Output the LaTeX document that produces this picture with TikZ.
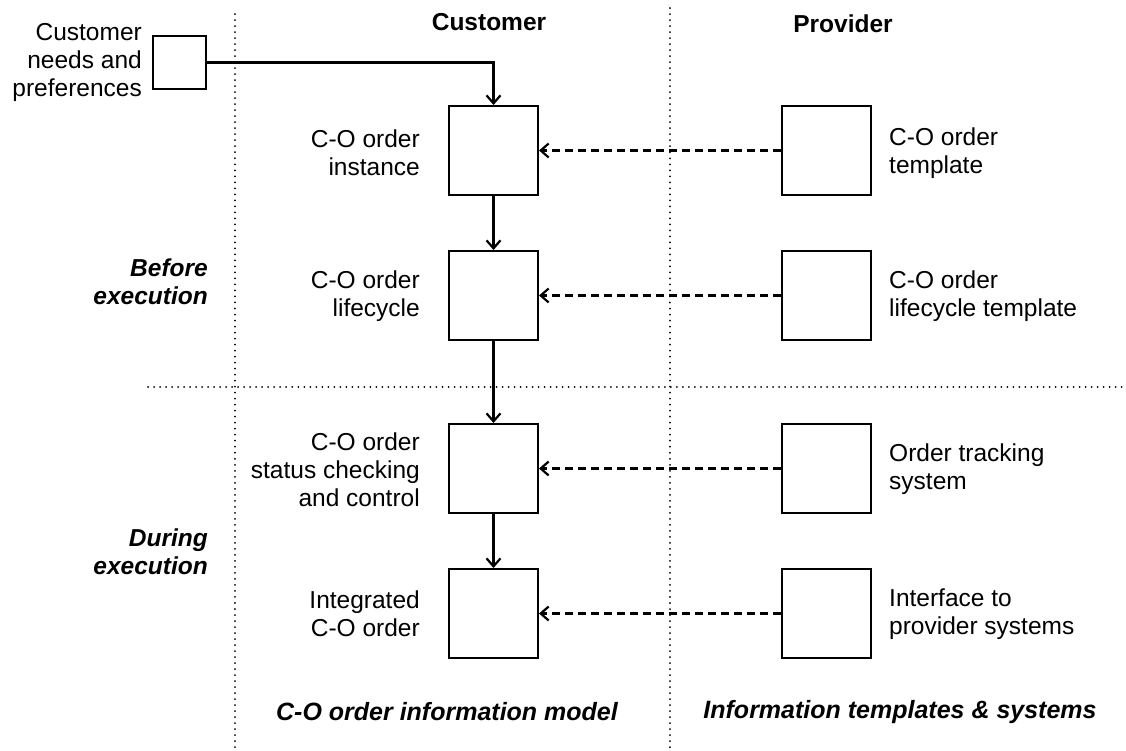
\documentclass[tikz,border=0pt]{standalone}
\usepackage{fontspec}
\setmainfont{Liberation Sans}
\usetikzlibrary{arrows.meta}
\begin{document}
\begin{tikzpicture}[x=1pt,y=-1pt,
  box/.style={draw,line width=2pt,minimum width=89pt,minimum height=89pt,inner sep=0pt},
  sbox/.style={draw,line width=2pt,minimum width=53pt,minimum height=53pt,inner sep=0pt},
  lbl/.style={font=\fontsize{24.5}{28}\selectfont,inner sep=0pt},
  hdr/.style={font=\fontsize{24.5}{28}\selectfont\bfseries,inner sep=0pt},
  phase/.style={font=\fontsize{24.5}{28}\selectfont\bfseries\itshape,inner sep=0pt},
  sep/.style={line width=2pt,dash pattern=on 0.01pt off 6pt,line cap=round},
  flow/.style={line width=2.2pt,-{Straight Barb[length=8pt,width=14pt]}},
  feed/.style={line width=2.2pt,dash pattern=on 8pt off 5pt,-{Straight Barb[length=8pt,width=14pt]}}]
\useasboundingbox (0,0) rectangle (1126,750);
\fill[white] (0,0) rectangle (1126,750);
% separators
\coordinate (v1t) at (235,14); \coordinate (v1b) at (235,750);
\coordinate (v2t) at (670,8); \coordinate (v2b) at (670,750);
\coordinate (hl) at (148,387); \coordinate (hr) at (1126,387);
\draw[sep] (v1t) -- (v1b);
\draw[sep] (v2t) -- (v2b);
\draw[sep] (hl) -- (hr);
% headers
\node[hdr] (hcust) at (489,22) {Customer};
\node[hdr] (hprov) at (843,24) {Provider};
% small box
\node[sbox] (need) at (179.5,62.5) {};
\node[lbl,anchor=east,align=right] (needl) at (142,62) {Customer\\needs and\\preferences};
% customer boxes
\node[box] (c1) at (493.5,150.5) {};
\node[box] (c2) at (493.5,295.5) {};
\node[box] (c3) at (493.5,468.5) {};
\node[box] (c4) at (493.5,613.5) {};
% provider boxes
\node[box] (p1) at (826.5,150.5) {};
\node[box] (p2) at (826.5,295.5) {};
\node[box] (p3) at (826.5,468.5) {};
\node[box] (p4) at (826.5,613.5) {};
% labels
\node[lbl,anchor=east,align=right] (c1l) at (420,153) {C-O order\\instance};
\node[lbl,anchor=east,align=right] (c2l) at (420,296) {C-O order\\lifecycle};
\node[lbl,anchor=east,align=right] (c3l) at (420,470) {C-O order\\status checking\\and control};
\node[lbl,anchor=east,align=right] (c4l) at (420,614) {Integrated\\C-O order};
\node[lbl,anchor=west,align=left] (p1l) at (889,153) {C-O order\\template};
\node[lbl,anchor=west,align=left] (p2l) at (889,296) {C-O order\\lifecycle template};
\node[lbl,anchor=west,align=left] (p3l) at (889,469) {Order tracking\\system};
\node[lbl,anchor=west,align=left] (p4l) at (889,614) {Interface to\\provider systems};
% phases
\node[phase,anchor=east,align=right] (before) at (208,282) {Before\\execution};
\node[phase,anchor=east,align=right] (during) at (208,552) {During\\execution};
% bottom
\node[phase,font=\fontsize{25}{28}\selectfont\bfseries\itshape] (bl) at (447,712) {C-O order information model};
\node[phase,font=\fontsize{25}{28}\selectfont\bfseries\itshape] (br) at (900,712) {Information templates \& systems};
% connectors
\draw[flow] (need.east) -| (c1.north);
\draw[flow] (c1) -- (c2);
\draw[flow] (c2) -- (c3);
\draw[flow] (c3) -- (c4);
\draw[feed] (p1) -- (c1);
\draw[feed] (p2) -- (c2);
\draw[feed] (p3) -- (c3);
\draw[feed] (p4) -- (c4);
\end{tikzpicture}
\end{document}
